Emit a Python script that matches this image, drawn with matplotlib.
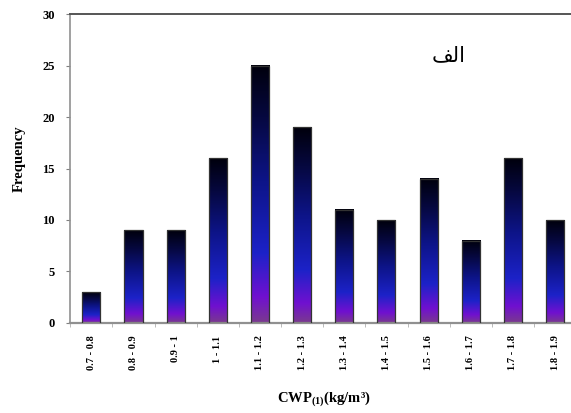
import numpy as np
import matplotlib
matplotlib.use("Agg")
import matplotlib.pyplot as plt
from matplotlib.colors import LinearSegmentedColormap

# data
categories = ["0.7 - 0.8", "0.8 - 0.9", "0.9 - 1", "1 - 1.1", "1.1 - 1.2", "1.2 - 1.3",
              "1.3 - 1.4", "1.4 - 1.5", "1.5 - 1.6", "1.6 - 1.7", "1.7 - 1.8", "1.8 - 1.9"]
frequency = [3, 9, 9, 16, 25, 19, 11, 10, 14, 8, 16, 10]
yticks = [0, 5, 10, 15, 20, 25, 30]

# gradient per bar: purple at the foot, blue in the middle, black at the top
grad = LinearSegmentedColormap.from_list("bar", [
    (0.00, "#7a3a8e"),
    (0.10, "#7010d0"),
    (0.27, "#1c22c8"),
    (0.55, "#0d1488"),
    (0.80, "#060840"),
    (1.00, "#00000c"),
])

plt.rcParams["font.family"] = ["Liberation Serif", "DejaVu Serif"]
plt.rcParams["font.weight"] = "bold"
plt.rcParams["mathtext.fontset"] = "custom"
plt.rcParams["mathtext.rm"] = "Liberation Serif:bold"
plt.rcParams["mathtext.bf"] = "Liberation Serif:bold"
plt.rcParams["mathtext.it"] = "Liberation Serif:bold"

fig = plt.figure(figsize=(5.71, 4.13), dpi=100)
ax = fig.add_axes([0.123, 0.218, 0.886, 0.748])

x = np.arange(len(categories))
width = 0.43
bars = ax.bar(x, frequency, width=width, facecolor="none", edgecolor="#333333",
              linewidth=0.9, zorder=3)

col = np.linspace(0, 1, 256).reshape(-1, 1)
for b in bars:
    x0 = b.get_x()
    h = b.get_height()
    ax.imshow(col, cmap=grad, origin="lower", aspect="auto",
              extent=[x0, x0 + b.get_width(), 0, h], zorder=2, interpolation="bilinear")

ax.set_xlim(-0.5, len(categories) - 0.5)
ax.set_ylim(0, 30)

ax.set_xticks(x)
ax.set_xticklabels(categories, rotation=90, fontsize=7.5, fontweight="bold")
ax.tick_params(axis="x", which="major", length=0, pad=9)
ax.set_xticks(np.arange(-0.5, len(categories), 1.0), minor=True)
ax.tick_params(axis="x", which="minor", length=3, color="#b0b0b0", direction="out")

ax.set_yticks(yticks)
ax.set_yticklabels([str(v) for v in yticks], fontsize=9, fontweight="bold")
ax.tick_params(axis="y", length=3, color="#808080", pad=8)

ax.spines["right"].set_visible(False)
ax.spines["top"].set_color("#555555")
ax.spines["top"].set_linewidth(1.4)
ax.spines["left"].set_color("#909090")
ax.spines["left"].set_linestyle((0, (2, 1)))
ax.spines["left"].set_linewidth(1.2)
ax.spines["bottom"].set_color("#909090")
ax.spines["bottom"].set_linestyle((0, (1, 1)))
ax.spines["bottom"].set_linewidth(1.6)

fig.text(0.568, 0.036, "CWP$_{(1)}$(kg/m³)", ha="center", va="center",
         fontsize=10.5, fontweight="bold")
fig.text(0.033, 0.615, "Frequency", rotation=90, ha="center", va="center",
         fontsize=10.5, fontweight="bold")

# Arabic "الف" in presentation forms, visual order
fig.text(0.786, 0.866, "\uFED2\uFEDF\uFE8D", ha="center", va="center",
         fontsize=15, family=["DejaVu Sans"], fontweight="normal")

fig.savefig("out.png", dpi=100)
